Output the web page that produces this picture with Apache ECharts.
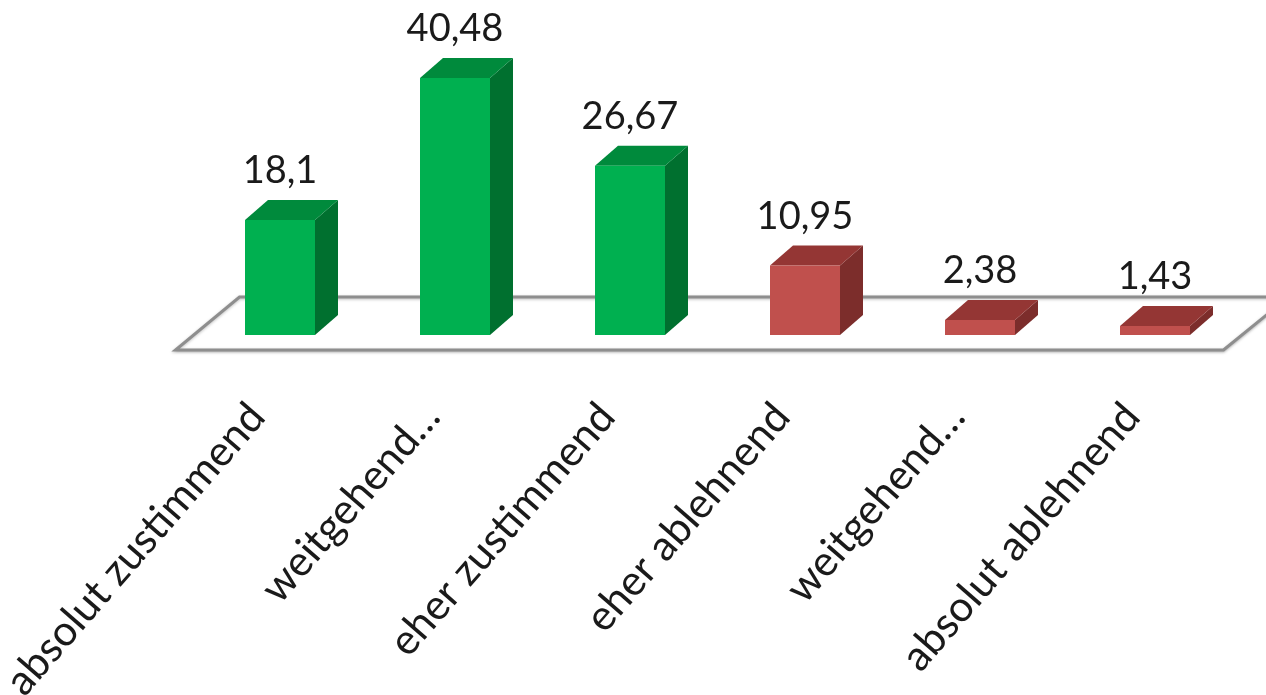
<!DOCTYPE html>
<html>
<head>
<meta charset="utf-8">
<script src="https://cdn.jsdelivr.net/npm/echarts@6/dist/echarts.min.js"></script>
<style>
  html, body { margin: 0; padding: 0; background: #ffffff; }
  #chart { width: 1266px; height: 695px; }
</style>
</head>
<body>
<div id="chart"></div>
<script>
const categories = ['absolut zustimmend', 'weitgehend…', 'eher zustimmend', 'eher ablehnend', 'weitgehend…', 'absolut ablehnend'];
const values = [18.1, 40.48, 26.67, 10.95, 2.38, 1.43];
const valueLabels = ['18,1', '40,48', '26,67', '10,95', '2,38', '1,43'];

const GREEN = { front: '#00b050', side: '#00702f', top: '#008a3c' };
const RED = { front: '#c0504d', side: '#7c2d2b', top: '#943634' };
const DX = 23, DY = 20;

const chart = echarts.init(document.getElementById('chart'));

function renderFloor(params, api) {
  const cs = params.coordSys;
  const y0 = api.coord([0, 0])[1];
  const gx = cs.x, gw = cs.width;
  return {
    type: 'polygon',
    shape: {
      points: [
        [gx - 17, y0 + 15],
        [gx + gw - 19, y0 + 15],
        [gx + gw + 46, y0 - 38],
        [gx + 47, y0 - 38]
      ]
    },
    style: {
      fill: '#ffffff',
      stroke: '#8e8e8e',
      lineWidth: 3,
      shadowColor: 'rgba(0,0,0,0.25)',
      shadowBlur: 3,
      shadowOffsetY: 1
    },
    z2: 0
  };
}

function renderBar(params, api) {
  const i = api.value(0);
  const v = api.value(1);
  const base = api.coord([i, 0]);
  const top = api.coord([i, v]);
  const bw = api.size([1, 0])[0] * 0.4;
  const x0 = base[0] - bw / 2, x1 = base[0] + bw / 2;
  const y0 = base[1], y1 = top[1];
  const c = i < 3 ? GREEN : RED;
  return {
    type: 'group',
    children: [
      {
        type: 'polygon',
        shape: { points: [[x1, y0], [x1 + DX, y0 - DY], [x1 + DX, y1 - DY], [x1, y1]] },
        style: { fill: c.side }
      },
      {
        type: 'polygon',
        shape: { points: [[x0, y1], [x1, y1], [x1 + DX, y1 - DY], [x0 + DX, y1 - DY]] },
        style: { fill: c.top }
      },
      {
        type: 'rect',
        shape: { x: x0, y: y1, width: bw, height: y0 - y1 },
        style: { fill: c.front }
      },
      {
        type: 'text',
        x: base[0],
        y: y1 - 49,
        style: {
          text: valueLabels[params.dataIndex],
          fill: '#1a1a1a',
          font: '38px Lato',
          align: 'center',
          verticalAlign: 'middle'
        }
      }
    ]
  };
}

chart.setOption({
  animation: false,
  backgroundColor: '#ffffff',
  grid: {
    left: 192.5, right: 23.5, top: 17.5, bottom: 360,
    containLabel: false,
    outerBoundsMode: 'none'
  },
  xAxis: {
    type: 'category',
    data: categories,
    axisLine: { show: false },
    axisTick: { show: false },
    splitLine: { show: false },
    axisLabel: {
      rotate: 49,
      margin: 48,
      padding: [0, 35, 0, 0],
      interval: 0,
      fontFamily: 'Lato',
      fontSize: 42,
      color: '#1a1a1a',
      hideOverlap: false
    }
  },
  yAxis: {
    type: 'value',
    min: 0,
    max: 50,
    show: false
  },
  series: [
    {
      type: 'custom',
      renderItem: renderFloor,
      data: [[0, 0]],
      z: 1,
      silent: true,
      clip: false
    },
    {
      type: 'custom',
      renderItem: renderBar,
      data: values.map((v, i) => [i, v]),
      z: 2,
      clip: false
    }
  ]
});
</script>
</body>
</html>
